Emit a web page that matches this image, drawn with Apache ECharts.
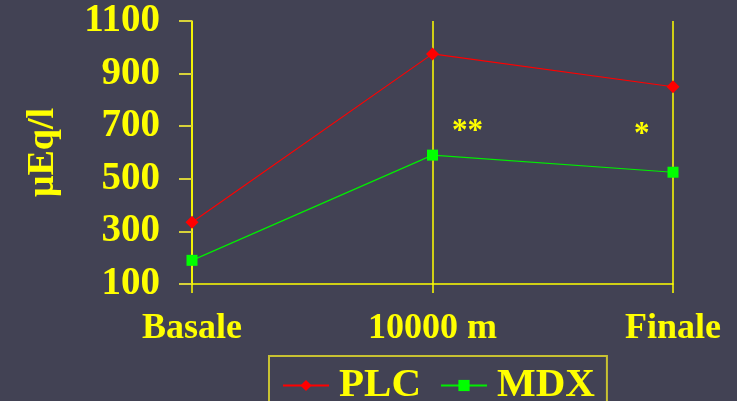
<!DOCTYPE html>
<html>
<head>
<meta charset="utf-8">
<script src="https://cdn.jsdelivr.net/npm/echarts@6/dist/echarts.min.js"></script>
<style>
  html, body { margin: 0; padding: 0; background: #424254; }
  #chart { width: 737px; height: 401px; }
</style>
</head>
<body>
<div id="chart"></div>
<script>
// Phases of the measurement
const categories = ['Basale', '10000 m', 'Finale'];
// Values in µEq/l for each group
const plcValues = [335, 975, 850];
const mdxValues = [190, 590, 525];
// Y axis range and step
const yMin = 100;
const yMax = 1100;
const yStep = 200;

const FONT = '"Liberation Serif", "Times New Roman", serif';
const YELLOW = '#ffff00';

const chart = echarts.init(document.getElementById('chart'));

chart.setOption({
  backgroundColor: '#424254',
  animation: false,
  grid: { left: 192, right: 64, top: 21, bottom: 117 },
  legend: {
    left: 269,
    top: 356,
    orient: 'horizontal',
    itemWidth: 46,
    itemHeight: 14,
    itemGap: 19,
    padding: [9, 12, 20, 13],
    borderColor: '#c8c232',
    borderWidth: 2,
    textStyle: {
      color: YELLOW,
      fontFamily: FONT,
      fontWeight: 'bold',
      fontSize: 41,
      padding: [0, 0, 0, 5]
    },
    data: ['PLC', 'MDX']
  },
  xAxis: {
    type: 'category',
    data: categories,
    boundaryGap: false,
    axisLine: { lineStyle: { color: YELLOW, width: 1.5 } },
    axisTick: { show: true, length: 9, lineStyle: { color: YELLOW, width: 1.5 } },
    splitLine: { show: true, lineStyle: { color: YELLOW, width: 1.5 } },
    axisLabel: {
      color: YELLOW,
      fontFamily: FONT,
      fontWeight: 'bold',
      fontSize: 36,
      margin: 27
    }
  },
  yAxis: {
    type: 'value',
    min: yMin,
    max: yMax,
    interval: yStep,
    name: 'μEq/l',
    nameLocation: 'middle',
    nameGap: 130,
    nameTextStyle: {
      color: YELLOW,
      fontFamily: FONT,
      fontWeight: 'bold',
      fontSize: 38
    },
    axisLine: { show: true, lineStyle: { color: YELLOW, width: 1.5 } },
    axisTick: { show: true, inside: false, length: 13, lineStyle: { color: '#d8d23a', width: 2 } },
    splitLine: { show: false },
    axisLabel: {
      color: YELLOW,
      fontFamily: FONT,
      fontWeight: 'bold',
      fontSize: 39,
      margin: 32,
      formatter: (v) => String(v)
    }
  },
  series: [
    {
      name: 'PLC',
      type: 'line',
      data: plcValues,
      symbol: 'diamond',
      symbolSize: 13,
      itemStyle: { color: '#ff0000' },
      lineStyle: { color: '#ff0000', width: 1.2 }
    },
    {
      name: 'MDX',
      type: 'line',
      data: mdxValues,
      symbol: 'rect',
      symbolSize: 11,
      itemStyle: { color: '#00ff00' },
      lineStyle: { color: '#00ee00', width: 1.2 }
    }
  ],
  graphic: [
    {
      type: 'text',
      left: 452,
      top: 116,
      style: { text: '**', fill: YELLOW, font: 'bold 31px ' + FONT }
    },
    {
      type: 'text',
      left: 634,
      top: 119,
      style: { text: '*', fill: YELLOW, font: 'bold 31px ' + FONT }
    }
  ]
});
</script>
</body>
</html>
